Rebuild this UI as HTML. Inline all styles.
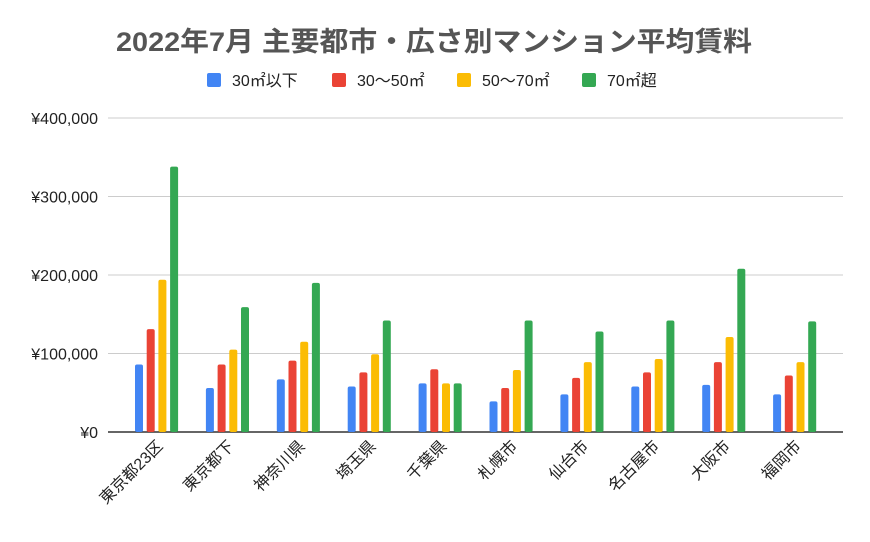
<!DOCTYPE html>
<html><head><meta charset="utf-8"><style>
body{margin:0;background:#fff;font-family:"Liberation Sans","Noto Sans CJK JP",sans-serif;}
svg text{font-family:"Liberation Sans","Noto Sans CJK JP",sans-serif;}
</style></head><body>
<svg id="chart" width="870" height="537" xmlns="http://www.w3.org/2000/svg">
<text x="434" y="51" text-anchor="middle" font-size="27" font-weight="bold" fill="#555" textLength="636" lengthAdjust="spacingAndGlyphs">2022年7月 主要都市・広さ別マンション平均賃料</text>
<g id="legend"></g>
<g id="grid"></g><g id="bars"></g><g id="labels"></g>
</svg>
<script>
const categories=["東京都23区","東京都下","神奈川県","埼玉県","千葉県","札幌市","仙台市","名古屋市","大阪市","福岡市"];
const seriesNames=["30㎡以下","30〜50㎡","50〜70㎡","70㎡超"];
const s1=[86000,56000,67000,58000,62000,39000,48000,58000,60000,48000];
const s2=[131000,86000,91000,76000,80000,56000,69000,76000,89000,72000];
const s3=[194000,105000,115000,99000,62000,79000,89000,93000,121000,89000];
const s4=[338000,159000,190000,142000,62000,142000,128000,142000,208000,141000];
const yTicks=[0,100000,200000,300000,400000];
const yTickLabels=["¥0","¥100,000","¥200,000","¥300,000","¥400,000"];
const colors=["#4285f4","#ea4335","#fbbc04","#34a853"];
const NS="http://www.w3.org/2000/svg";
function y(v){return 432-v*(314/400000);}
function gx(i){return 157+70.9*i;}
function mk(t,a,p){const e=document.createElementNS(NS,t);for(const k in a)e.setAttribute(k,a[k]);p.appendChild(e);return e;}
const grid=document.getElementById('grid'),bars=document.getElementById('bars'),labels=document.getElementById('labels'),legend=document.getElementById('legend');
yTicks.forEach((v,i)=>{
  if(i>0){const l=mk('line',{x1:108,x2:843,y1:y(v),y2:y(v),stroke:'#ccc','stroke-width':1},grid);
  
  }
  const t=mk('text',{x:98,y:y(v)+6,'text-anchor':'end','font-size':16,fill:'#222'},labels);t.textContent=yTickLabels[i];
  
  
});
const ax=mk('line',{x1:108,x2:843,y1:432,y2:432,stroke:'#333','stroke-width':1.5},grid);


const series=[s1,s2,s3,s4];
categories.forEach((c,i)=>{
  series.forEach((s,k)=>{
    const x=gx(i)-22+k*11.7;
    const r=mk('rect',{x:x,y:y(s[i]),width:8,height:432-y(s[i]),rx:2,fill:colors[k]},bars);
    
    
  });
  const t=mk('text',{x:gx(i)+7,y:447,'text-anchor':'end','font-size':16,fill:'#222',transform:`rotate(-45 ${gx(i)+7} 447)`},labels);t.textContent=c;
  
  
});
const lx=[207,332,457,582];
seriesNames.forEach((n,k)=>{
  const r=mk('rect',{x:lx[k],y:73,width:14,height:14,rx:2,fill:colors[k]},legend);
  
  
  const t=mk('text',{x:lx[k]+25,y:86,'font-size':16,fill:'#222'},legend);t.textContent=n;
  
  
});
</script>
</body></html>
